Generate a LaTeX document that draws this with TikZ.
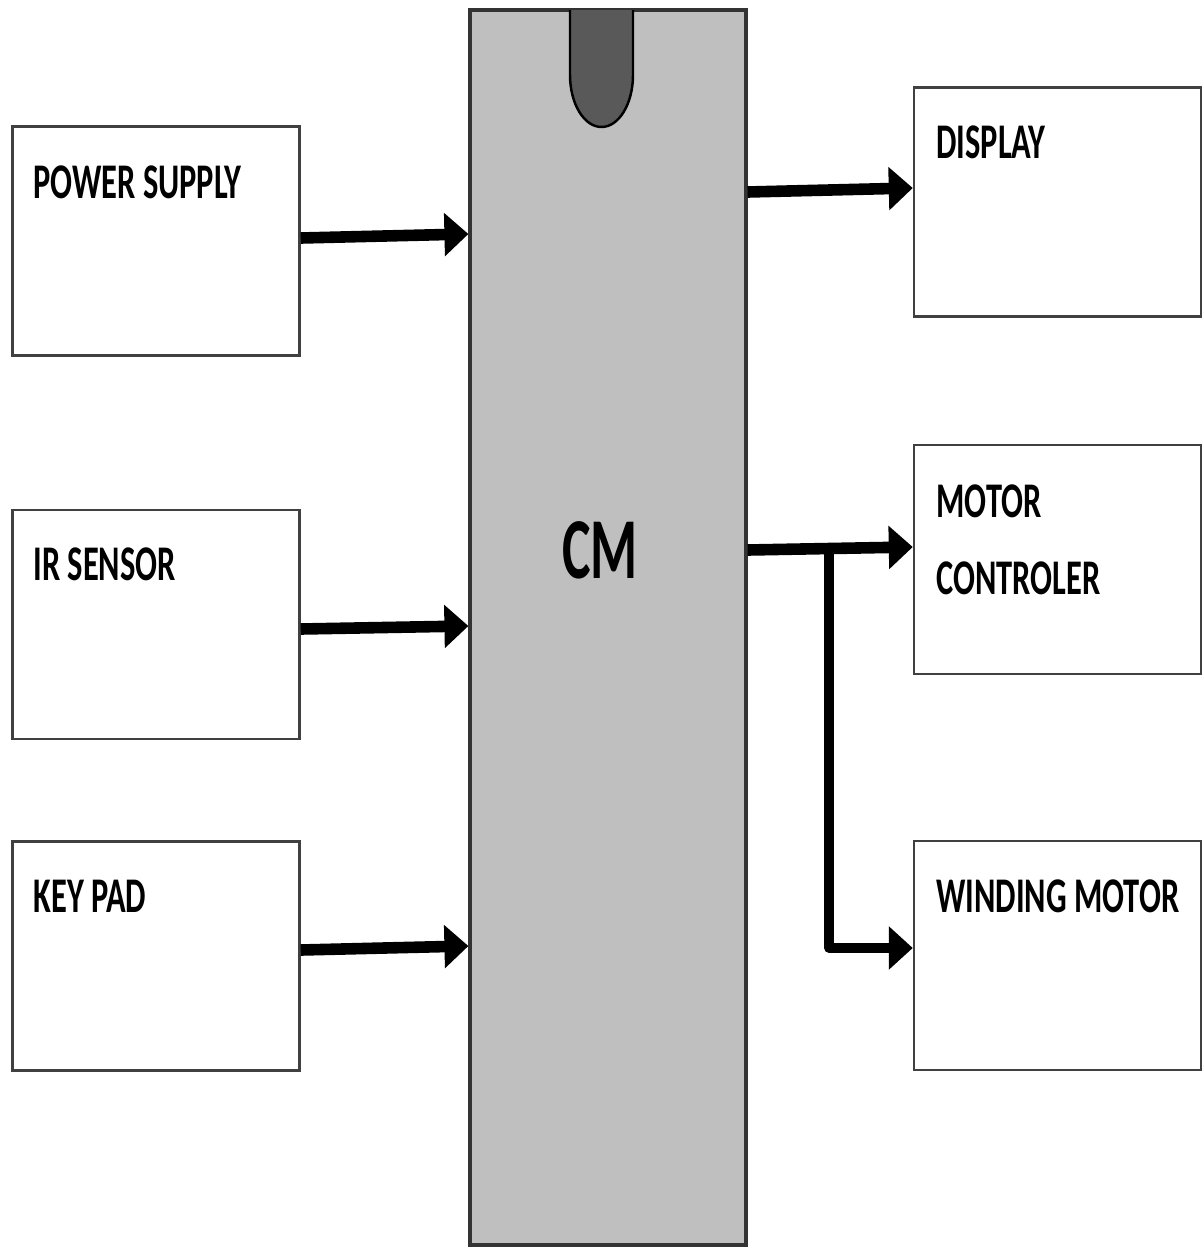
\documentclass[tikz,border=0pt]{standalone}
\usepackage{fontspec}
\setmainfont{Carlito}
\usepackage{xcolor}
\usetikzlibrary{arrows.meta, positioning}
\definecolor{chipgray}{HTML}{BFBFBF}
\definecolor{notchgray}{HTML}{595959}
\definecolor{edgegray}{HTML}{404040}

\begin{document}
\begin{tikzpicture}[
    block/.style={rectangle, draw=edgegray, line width=0.7pt, fill=white, inner sep=0pt, minimum width=2.87cm, minimum height=2.29cm},
    chip/.style={rectangle, draw=black!80, line width=0.9pt, fill=chipgray, inner sep=0pt, minimum width=2.76cm, minimum height=12.35cm},
    tag/.style={anchor=base west, inner sep=0pt, align=left, xscale=0.65, font=\bfseries\fontsize{14.2}{21.8}\selectfont},
    arrow/.style={-{Triangle[length=2.4mm, width=4.2mm]}, line width=3.3pt, color=black},
    branch/.style={-{Triangle[length=2.4mm, width=4.2mm]}, line width=2.6pt, color=black}
]
\useasboundingbox (0,0) rectangle (12.02,-12.47);

% controller
\node[chip] (cm) at (6.08,-6.275) {};
\draw[fill=notchgray, draw=black, line width=0.7pt] (5.70,-0.10) -- (5.70,-0.75)
    arc[start angle=180, end angle=360, x radius=0.315, y radius=0.52] -- (6.33,-0.10);
\node[anchor=base, inner sep=0pt, xscale=0.62, font=\bfseries\fontsize{24.7}{30}\selectfont] (cmlabel) at (6.00,-5.78) {CM};

% inputs
\node[block] (power) at (1.56,-2.41) {};
\node[block] (ir) at (1.56,-6.245) {};
\node[block] (keypad) at (1.56,-9.56) {};
\node[tag] (powerlabel) at (0.33,-1.98) {POWER SUPPLY};
\node[tag] (irlabel) at (0.33,-5.80) {IR SENSOR};
\node[tag] (keypadlabel) at (0.33,-9.12) {KEY PAD};

% outputs
\node[block] (display) at (10.575,-2.02) {};
\node[block] (motorctl) at (10.575,-5.595) {};
\node[block] (winding) at (10.575,-9.555) {};
\node[tag] (displaylabel) at (9.36,-1.58) {DISPLAY};
\node[tag] (motorctllabel) at (9.36,-5.94) {MOTOR\\CONTROLER};
\node[tag] (windinglabel) at (9.36,-9.12) {WINDING MOTOR};

\draw[arrow] ([yshift=0.3mm]power.east) -- ([yshift=0.7mm]power.east -| cm.west);
\draw[arrow] ([yshift=-0.45mm]ir.east) -- ([yshift=-0.15mm]ir.east -| cm.west);
\draw[arrow] ([yshift=0.6mm]keypad.east) -- ([yshift=1mm]keypad.east -| cm.west);

\draw[arrow] ([yshift=1mm]display.west -| cm.east) -- ([yshift=1.4mm]display.west);
\draw[arrow] ([yshift=0.95mm]motorctl.west -| cm.east) -- ([yshift=1.25mm]motorctl.west);
\coordinate (split) at (8.29,-5.49);
\draw[branch, line join=round] (split) |- ([yshift=0.75mm]winding.west);
\end{tikzpicture}
\end{document}
